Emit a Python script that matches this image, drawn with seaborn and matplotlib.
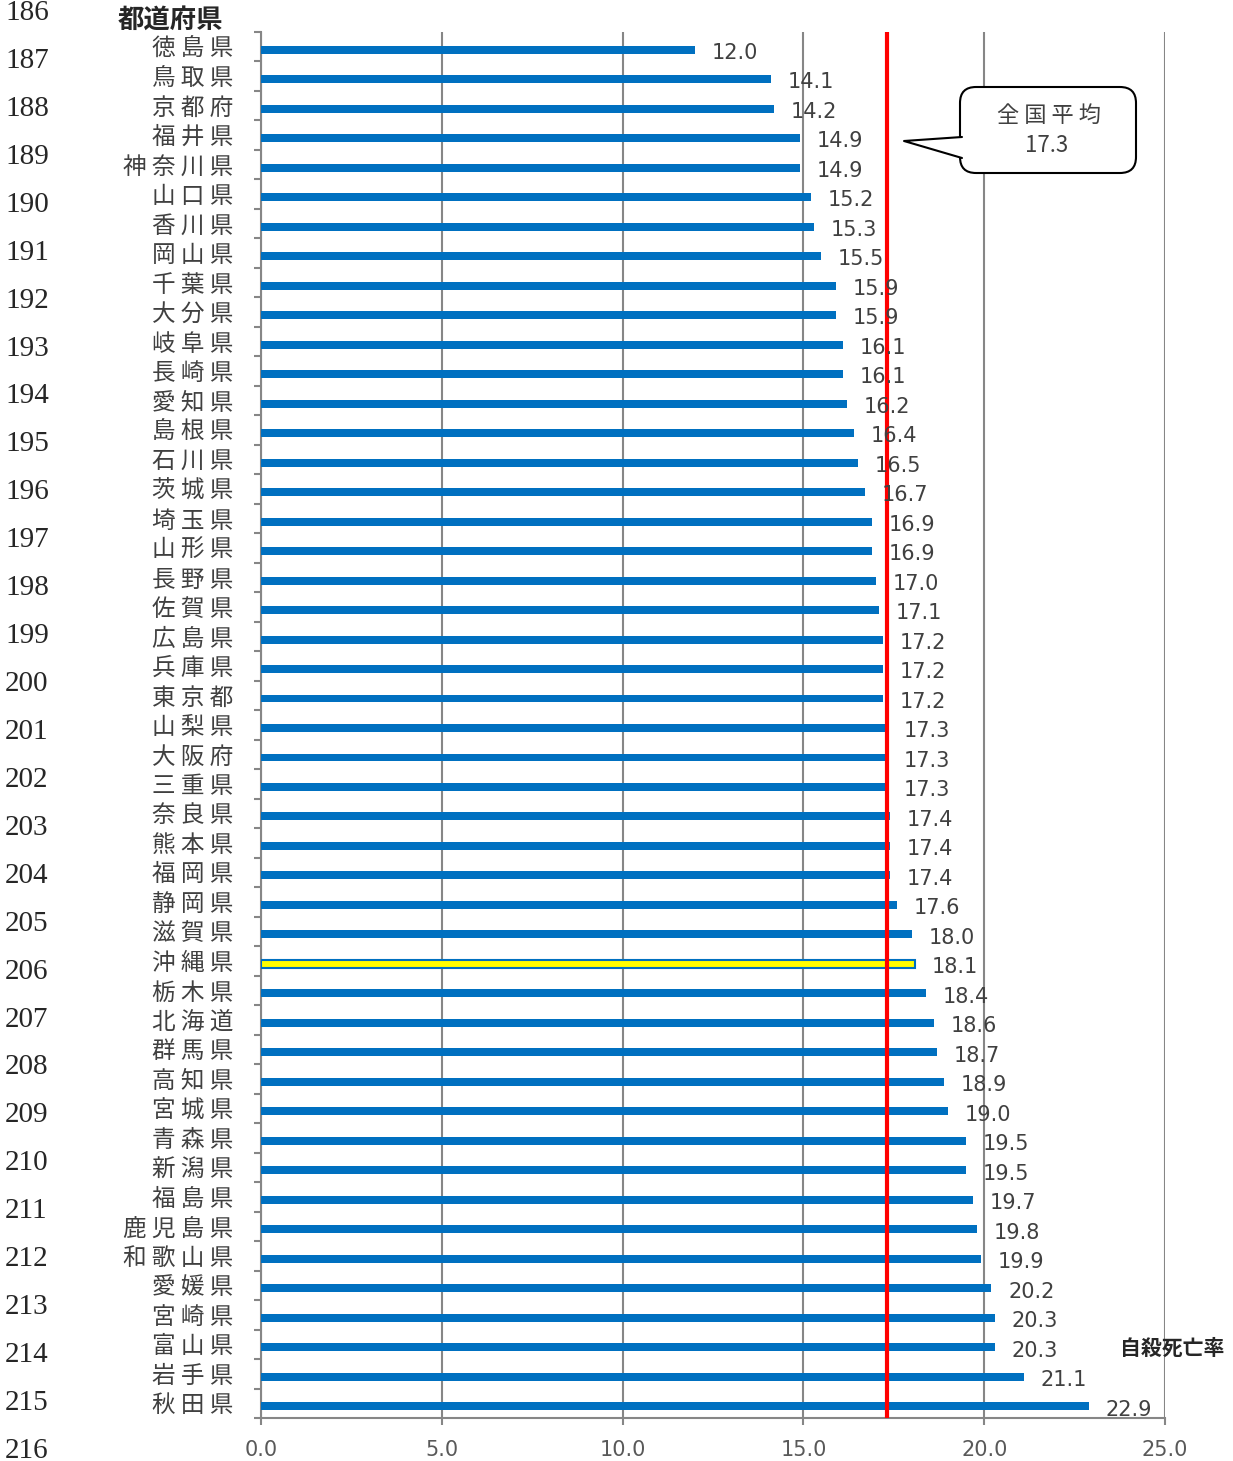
import numpy as np
import matplotlib
matplotlib.use("Agg")
import matplotlib.pyplot as plt
import seaborn as sns
from matplotlib.patches import FancyBboxPatch, Polygon
from matplotlib.lines import Line2D
from matplotlib.transforms import IdentityTransform, ScaledTranslation

# data
prefectures = ['徳島県', '鳥取県', '京都府', '福井県', '神奈川県', '山口県', '香川県', '岡山県',
               '千葉県', '大分県', '岐阜県', '長崎県', '愛知県', '島根県', '石川県', '茨城県',
               '埼玉県', '山形県', '長野県', '佐賀県', '広島県', '兵庫県', '東京都', '山梨県',
               '大阪府', '三重県', '奈良県', '熊本県', '福岡県', '静岡県', '滋賀県', '沖縄県',
               '栃木県', '北海道', '群馬県', '高知県', '宮城県', '青森県', '新潟県', '福島県',
               '鹿児島県', '和歌山県', '愛媛県', '宮崎県', '富山県', '岩手県', '秋田県']
rates = [12.0, 14.1, 14.2, 14.9, 14.9, 15.2, 15.3, 15.5,
         15.9, 15.9, 16.1, 16.1, 16.2, 16.4, 16.5, 16.7,
         16.9, 16.9, 17.0, 17.1, 17.2, 17.2, 17.2, 17.3,
         17.3, 17.3, 17.4, 17.4, 17.4, 17.6, 18.0, 18.1,
         18.4, 18.6, 18.7, 18.9, 19.0, 19.5, 19.5, 19.7,
         19.8, 19.9, 20.2, 20.3, 20.3, 21.1, 22.9]
national_avg = 17.3
highlight = '沖縄県'
x_ticks = [0, 5, 10, 15, 20, 25]
line_numbers = list(range(186, 217))

sns.set_style('white')
plt.rcParams['font.family'] = ['Noto Sans CJK JP', 'DejaVu Sans']

W, H = 1233, 1461
fig = plt.figure(figsize=(W / 100, H / 100), dpi=100)
ax = fig.add_axes([261 / W, 1 - 1418 / H, (1165 - 261) / W, (1418 - 32) / H])

blue = '#0070C0'
grey = '#868686'
sns.barplot(x=rates, y=prefectures, orient='h', color=blue, saturation=1,
            width=0.27, linewidth=0, ax=ax, zorder=3)

# bars sit a little below the middle of each slot
down = ScaledTranslation(0, -3 / 100, fig.dpi_scale_trans)
for p in ax.patches:
    p.set_transform(ax.transData + down)

# highlight Okinawa
hi = prefectures.index(highlight)
ax.patches[hi].set_facecolor('#FFFF00')
ax.patches[hi].set_edgecolor(blue)
ax.patches[hi].set_linewidth(1.5)

labels = ax.bar_label(ax.containers[0], fmt='%.1f', padding=12, fontsize=15,
                      color='#404040', family='DejaVu Sans', zorder=6)
for t in labels:
    t.xyann = (t.xyann[0], t.xyann[1] - 4.5)

ax.axvline(national_avg, color='#FF0000', lw=3, zorder=4)

ax.set_xlim(0, 25)
ax.set_ylim(len(prefectures) - 0.5, -0.5)
ax.set_xticks(x_ticks)
ax.set_xticklabels([f'{t:.1f}' for t in x_ticks], family='DejaVu Sans',
                   fontsize=15, color='#595959')
ax.set_yticks(range(len(prefectures)))
ax.set_yticklabels([' '.join(p) for p in prefectures], fontsize=17, color='#404040')
ax.set_yticks(np.arange(-0.5, len(prefectures), 1), minor=True)
ax.tick_params(axis='y', which='major', length=0, pad=20)
ax.tick_params(axis='y', which='minor', length=5, width=1.5, color=grey, direction='out', left=True)
ax.tick_params(axis='x', which='major', length=5, width=1.5, color=grey, direction='out',
               bottom=True, pad=11)
ax.set_xlabel('')
ax.set_ylabel('')

ax.grid(axis='x', color=grey, lw=1.5, zorder=0)
ax.set_axisbelow(True)
for side in ['top', 'right']:
    ax.spines[side].set_visible(False)
for side in ['left', 'bottom']:
    ax.spines[side].set_color(grey)
    ax.spines[side].set_linewidth(1.5)

# axis titles
fig.text(118 / W, 1 - 20 / H, '都道府県', fontsize=19, fontweight='bold', va='center', ha='left')
fig.text(1120 / W, 1 - 1348 / H, '自殺死亡率', fontsize=15, fontweight='bold', va='center', ha='left')

# callout bubble (pixel coordinates)
idt = IdentityTransform()
box = FancyBboxPatch((960, H - 173), 176, 86, boxstyle='round,pad=0,rounding_size=16',
                     fc='white', ec='black', lw=1.5, transform=idt, zorder=10)
fig.add_artist(box)
cover = Polygon([(966, H - 137), (962, H - 137), (904, H - 141), (962, H - 158), (966, H - 158)],
                closed=True, fc='white', ec='none', transform=idt, zorder=11)
fig.add_artist(cover)
tail = Line2D([962, 904, 962], [H - 137, H - 141, H - 158], color='black', lw=1.5,
              transform=idt, zorder=12)
fig.add_artist(tail)
fig.text(1049 / W, 1 - 115 / H, '全 国 平 均', fontsize=16, color='#404040',
         ha='center', va='center', zorder=13)
fig.text(1047 / W, 1 - 146 / H, f'{national_avg:.1f}', fontsize=16, color='#404040',
         ha='center', va='center', zorder=13)

# document line numbers in the left margin
for i, n in enumerate(line_numbers):
    fig.text(5 / W, 1 - (13 + i * 47.93) / H, str(n), family='Liberation Serif',
             fontsize=21, ha='left', va='center')

fig.savefig('out.png', dpi=100)
